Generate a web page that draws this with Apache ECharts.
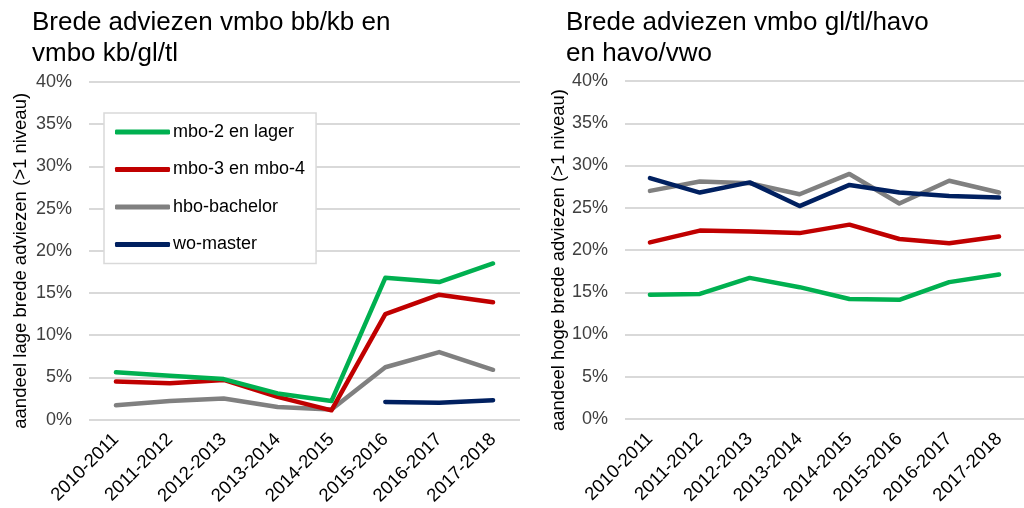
<!DOCTYPE html>
<html lang="nl">
<head>
    <meta charset="UTF-8">
    <title>Brede adviezen</title>
    <script src="https://cdn.jsdelivr.net/npm/echarts@6/dist/echarts.min.js"></script>
    <style>
        html, body { margin: 0; padding: 0; background: #fff; }
        #chart { width: 1024px; height: 508px; }
    </style>
</head>
<body>
    <div id="chart"></div>
    <script>
        // schooljaren
        const years = ['2010-2011', '2011-2012', '2012-2013', '2013-2014',
                       '2014-2015', '2015-2016', '2016-2017', '2017-2018'];
        const seriesNames = ['mbo-2 en lager', 'mbo-3 en mbo-4', 'hbo-bachelor', 'wo-master'];
        const colors = ['#00B050', '#C00000', '#808080', '#002060'];

        // links: vmbo bb/kb en vmbo kb/gl/tl (lage brede adviezen, %)
        const lowMbo2 = [5.6, 5.2, 4.8, 3.1, 2.2, 16.8, 16.3, 18.5];
        const lowMbo34 = [4.5, 4.3, 4.7, 2.7, 1.1, 12.5, 14.8, 13.9];
        const lowHbo = [1.7, 2.2, 2.5, 1.5, 1.2, 6.2, 8.0, 5.9];
        const lowWo = [null, null, null, null, null, 2.1, 2.0, 2.3];

        // rechts: vmbo gl/tl/havo en havo/vwo (hoge brede adviezen, %)
        const highMbo2 = [14.7, 14.8, 16.7, 15.6, 14.2, 14.1, 16.2, 17.1];
        const highMbo34 = [20.9, 22.3, 22.2, 22.0, 23.0, 21.3, 20.8, 21.6];
        const highHbo = [27.0, 28.1, 27.9, 26.6, 29.0, 25.5, 28.2, 26.8];
        const highWo = [28.5, 26.8, 28.0, 25.2, 27.7, 26.8, 26.4, 26.2];

        const leftData = [lowMbo2, lowMbo34, lowHbo, lowWo];
        const rightData = [highMbo2, highMbo34, highHbo, highWo];

        const font = 'Arial, "Liberation Sans", sans-serif';

        function xAxis(gridIndex) {
            return {
                type: 'category',
                gridIndex: gridIndex,
                data: years,
                boundaryGap: true,
                axisLine: { show: false },
                axisTick: { show: false },
                axisLabel: { rotate: 45, fontSize: 18.5, color: '#000', fontFamily: font, margin: 17 }
            };
        }

        function yAxis(gridIndex, name, gap) {
            return {
                type: 'value',
                gridIndex: gridIndex,
                min: 0,
                max: 40,
                interval: 5,
                name: name,
                nameLocation: 'middle',
                nameGap: gap,
                // extra ruimte rechts schuift de tekst iets omlaag
                nameTextStyle: { fontSize: 18.5, color: '#000', fontFamily: font, padding: [0, 20, 0, 0] },
                axisLine: { show: false },
                axisTick: { show: false },
                axisLabel: { fontSize: 18, color: '#404040', fontFamily: font, margin: 17, formatter: '{value}%' },
                splitLine: { lineStyle: { color: '#d9d9d9', width: 2 } }
            };
        }

        function makeSeries(dataSets, axisIndex) {
            return dataSets.map((d, i) => ({
                name: seriesNames[i],
                type: 'line',
                xAxisIndex: axisIndex,
                yAxisIndex: axisIndex,
                data: d,
                showSymbol: false,
                connectNulls: false,
                silent: true,
                lineStyle: { width: 4.5, color: colors[i], cap: 'round', join: 'round' },
                itemStyle: { color: colors[i] },
                z: i === 3 ? 3 : 3 - i + 1
            }));
        }

        const chart = echarts.init(document.getElementById('chart'));
        chart.setOption({
            animation: false,
            title: [
                {
                    text: 'Brede adviezen vmbo bb/kb en\nvmbo kb/gl/tl',
                    left: 27,
                    top: 2,
                    textStyle: { fontSize: 26, fontWeight: 'normal', color: '#000', lineHeight: 31, fontFamily: font }
                },
                {
                    text: 'Brede adviezen vmbo gl/tl/havo\nen havo/vwo',
                    left: 561,
                    top: 2,
                    textStyle: { fontSize: 26, fontWeight: 'normal', color: '#000', lineHeight: 31, fontFamily: font }
                }
            ],
            legend: {
                orient: 'vertical',
                left: 104,
                top: 113,
                padding: [10, 11],
                itemGap: 19.5,
                itemWidth: 55,
                itemHeight: 5,
                icon: 'roundRect',
                backgroundColor: '#fff',
                borderColor: '#d9d9d9',
                borderWidth: 1.5,
                data: seriesNames,
                textStyle: { fontSize: 18, color: '#000', fontFamily: font, padding: [0, 0, 0, -2] }
            },
            grid: [
                { left: 89, right: 504, top: 82, bottom: 87 },
                { left: 625, right: -15, top: 81, bottom: 89 }
            ],
            xAxis: [xAxis(0), xAxis(1)],
            yAxis: [
                yAxis(0, 'aandeel lage brede adviezen (>1 niveau)', 59),
                yAxis(1, 'aandeel hoge brede adviezen (>1 niveau)', 57)
            ],
            series: makeSeries(leftData, 0).concat(makeSeries(rightData, 1))
        });
    </script>
</body>
</html>
